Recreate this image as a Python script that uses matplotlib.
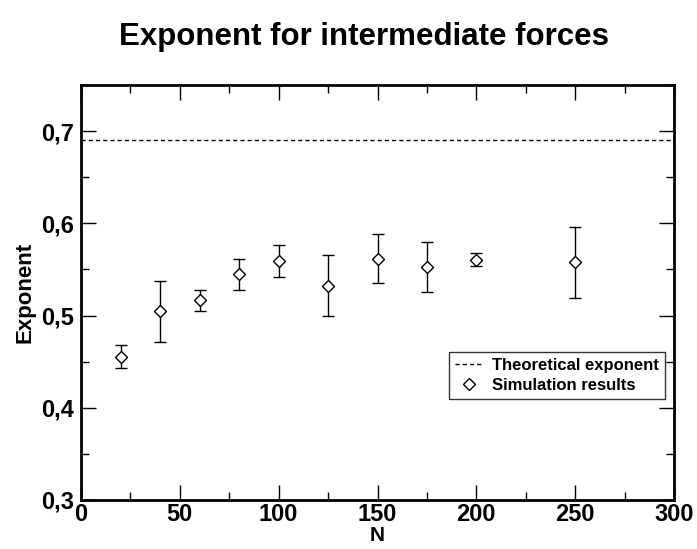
import numpy as np
import matplotlib
matplotlib.use("Agg")
import matplotlib.pyplot as plt
from matplotlib.lines import Line2D
from matplotlib.ticker import MultipleLocator, FuncFormatter

plt.rcParams['font.family'] = ['Liberation Sans', 'DejaVu Sans']
plt.rcParams['font.weight'] = 'bold'

# data
n_vals = [20, 40, 60, 80, 100, 125, 150, 175, 200, 250]
exponent = [0.4556, 0.505, 0.5164, 0.5446, 0.5588, 0.5324, 0.5617, 0.5526, 0.5606, 0.5577]
err_top = [0.4686, 0.5378, 0.528, 0.5617, 0.5766, 0.566, 0.588, 0.5794, 0.5674, 0.5964]
err_bot = [0.443, 0.4716, 0.5052, 0.5277, 0.5418, 0.4998, 0.5353, 0.5258, 0.5533, 0.5186]
theory = 0.69

n_vals = np.array(n_vals)
exponent = np.array(exponent)
yerr = [exponent - np.array(err_bot), np.array(err_top) - exponent]

fig = plt.figure(figsize=(6.97, 5.49), dpi=100)
ax = fig.add_axes([81/697, 1 - 500/549, (674-81)/697, (500-85)/549])

dash = (0, (3, 2.2))
ax.axhline(theory, color='k', lw=1, ls=dash)
ax.errorbar(n_vals, exponent, yerr=yerr, fmt='D', ms=6.6, mfc='white', mec='k',
            mew=1, ecolor='k', elinewidth=1, capsize=4.5, capthick=1)

ax.set_xlim(0, 300)
ax.set_ylim(0.3, 0.75)
ax.xaxis.set_major_locator(MultipleLocator(50))
ax.xaxis.set_minor_locator(MultipleLocator(25))
ax.yaxis.set_major_locator(MultipleLocator(0.1))
ax.yaxis.set_minor_locator(MultipleLocator(0.05))
ax.yaxis.set_major_formatter(FuncFormatter(lambda v, p: ('%.1f' % v).replace('.', ',')))
ax.tick_params(which='both', direction='in', top=True, right=True, width=1,
               labelsize=17)
ax.tick_params(axis='x', pad=2.5)
ax.tick_params(axis='y', pad=5)
ax.tick_params(which='major', length=11)
ax.tick_params(which='minor', length=6)
for s in ax.spines.values():
    s.set_linewidth(2)

ax.set_xlabel('N', fontsize=15, fontweight='bold', labelpad=0)
ax.set_ylabel('Exponent', fontsize=16, fontweight='bold', labelpad=4)
fig.text(364/697, 1 - 37/549, 'Exponent for intermediate forces', fontsize=22.5,
         fontweight='bold', ha='center', va='center')

handles = [Line2D([], [], color='k', lw=1, ls=dash),
           Line2D([], [], ls='none', marker='D', ms=6.6, mfc='white', mec='k', mew=1)]
leg = ax.legend(handles, ['Theoretical exponent', 'Simulation results'],
                loc='upper left', bbox_to_anchor=((449-81)/593, (500-352)/415),
                borderaxespad=0, fontsize=12, frameon=True, fancybox=False,
                edgecolor='k', handlelength=1.7, handletextpad=0.55,
                borderpad=0.35, labelspacing=0.3)
leg.get_frame().set_linewidth(1)

fig.savefig('out.png', dpi=100)
